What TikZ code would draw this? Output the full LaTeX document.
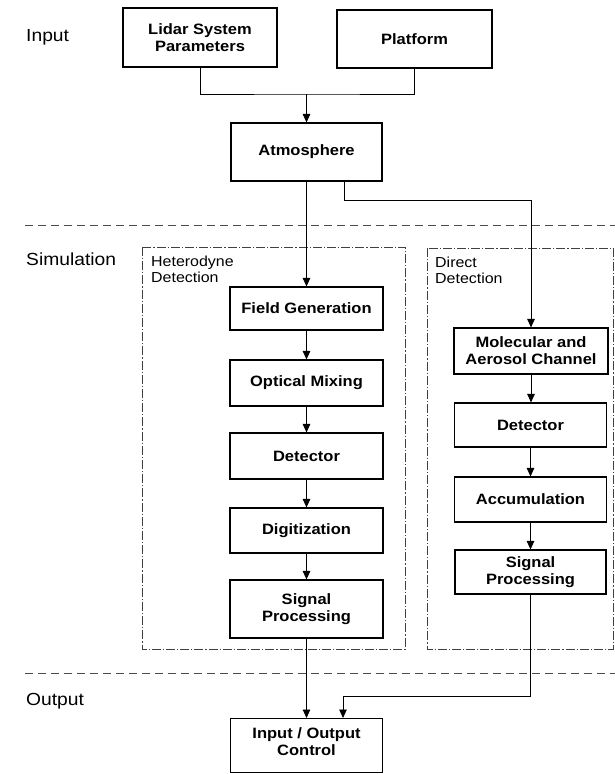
\documentclass[tikz,border=0pt]{standalone}
\usepackage{fontspec}
\setmainfont{Liberation Sans}[FakeStretch=1.1]
\usetikzlibrary{arrows.meta}
\begin{document}
\begin{tikzpicture}[x=1pt,y=-1pt,
  box/.style={draw=black,line width=1.1pt,minimum width=153pt,inner sep=0pt,align=center,
    font=\fontsize{15}{17}\selectfont\bfseries},
  conn/.style={draw=black,line width=0.9pt},
  arr/.style={conn,-{Triangle[length=8.5pt,width=7.5pt]}},
  sep/.style={draw=black!70,line width=0.7pt,dash pattern=on 8pt off 5pt},
  grp/.style={draw=black!75,line width=0.7pt,dash pattern=on 9pt off 2pt on 1.2pt off 2pt},
  sect/.style={font=\fontsize{17.5}{20}\selectfont,inner sep=0pt,anchor=base west},
  glabel/.style={font=\fontsize{14.5}{16}\selectfont,inner sep=0pt,anchor=north west,align=left}]
\useasboundingbox (0,0) rectangle (615,774);
\fill[white] (0,0) rectangle (615,774);

% separators
\draw[sep] (25,225) -- (615,225);
\draw[sep] (25,673) -- (615,673);

% group frames
\draw[grp] (142,247) rectangle (405,649);
\draw[grp] (427,248) rectangle (613.5,649);

% section labels
\node[sect] (lin) at (26,41) {Input};
\node[sect] (lsim) at (26,265) {Simulation};
\node[sect] (lout) at (26,705) {Output};

% group labels
\node[glabel] (lhet) at (151,256) {Heterodyne\\Detection};
\node[glabel] (ldir) at (435,257) {Direct\\Detection};

% boxes
\node[box,minimum width=154pt,minimum height=59pt] (lidar) at (200,37.5) {Lidar System\\Parameters};
\node[box,minimum width=155pt,minimum height=58pt] (plat) at (414.5,39) {Platform};
\node[box,minimum width=151pt,minimum height=58pt] (atm) at (306.5,152) {Atmosphere};

\node[box,minimum height=43pt] (fg) at (306.5,308.5) {Field Generation};
\node[box,minimum height=46pt] (om) at (306.5,383) {Optical Mixing};
\node[box,minimum height=46pt] (det1) at (306.5,456) {Detector};
\node[box,minimum height=45pt] (dig) at (306.5,530.5) {Digitization};
\node[box,minimum height=58pt] (sp1) at (306.5,609) {Signal\\Processing};

\node[box,minimum width=154pt,minimum height=46pt] (mol) at (531,351) {Molecular and\\Aerosol Channel};
\node[box,minimum width=152pt,minimum height=44pt] (det2) at (530.5,425) {Detector};
\node[box,minimum width=152pt,minimum height=45pt] (acc) at (530.5,499.5) {Accumulation};
\node[box,minimum width=151pt,minimum height=44pt] (sp2) at (530.5,572) {Signal\\Processing};

\node[box,minimum width=152pt,minimum height=54pt,anchor=north] (io) at (306.5,718) {};
\node[font=\fontsize{15}{17}\selectfont\bfseries,align=center,anchor=north,inner sep=0pt] (iot) at (306.5,727) {Input / Output\\Control};

% connectors
\coordinate (j) at (306.5,94);
\coordinate (r696) at (0,696);
\draw[conn] (lidar.south) |- (j) -| (plat.south);
\draw[arr] (j) -- (atm.north);
\draw[arr] (atm.south) -- (fg.north);
\draw[arr] ([xshift=37.5pt]atm.south) -- ++(0,19) -| (mol.north);
\draw[arr] (fg) -- (om);
\draw[arr] (om) -- (det1);
\draw[arr] (det1) -- (dig);
\draw[arr] (dig) -- (sp1);
\draw[arr] (mol.south) -- (mol.south |- det2.north);
\draw[arr] (det2) -- (acc);
\draw[arr] (acc) -- (sp2);
\draw[arr] (sp1) -- (io);
\draw[arr] (sp2.south) -- (sp2.south |- r696) -| ([xshift=36.5pt]io.north);
\end{tikzpicture}
\end{document}
